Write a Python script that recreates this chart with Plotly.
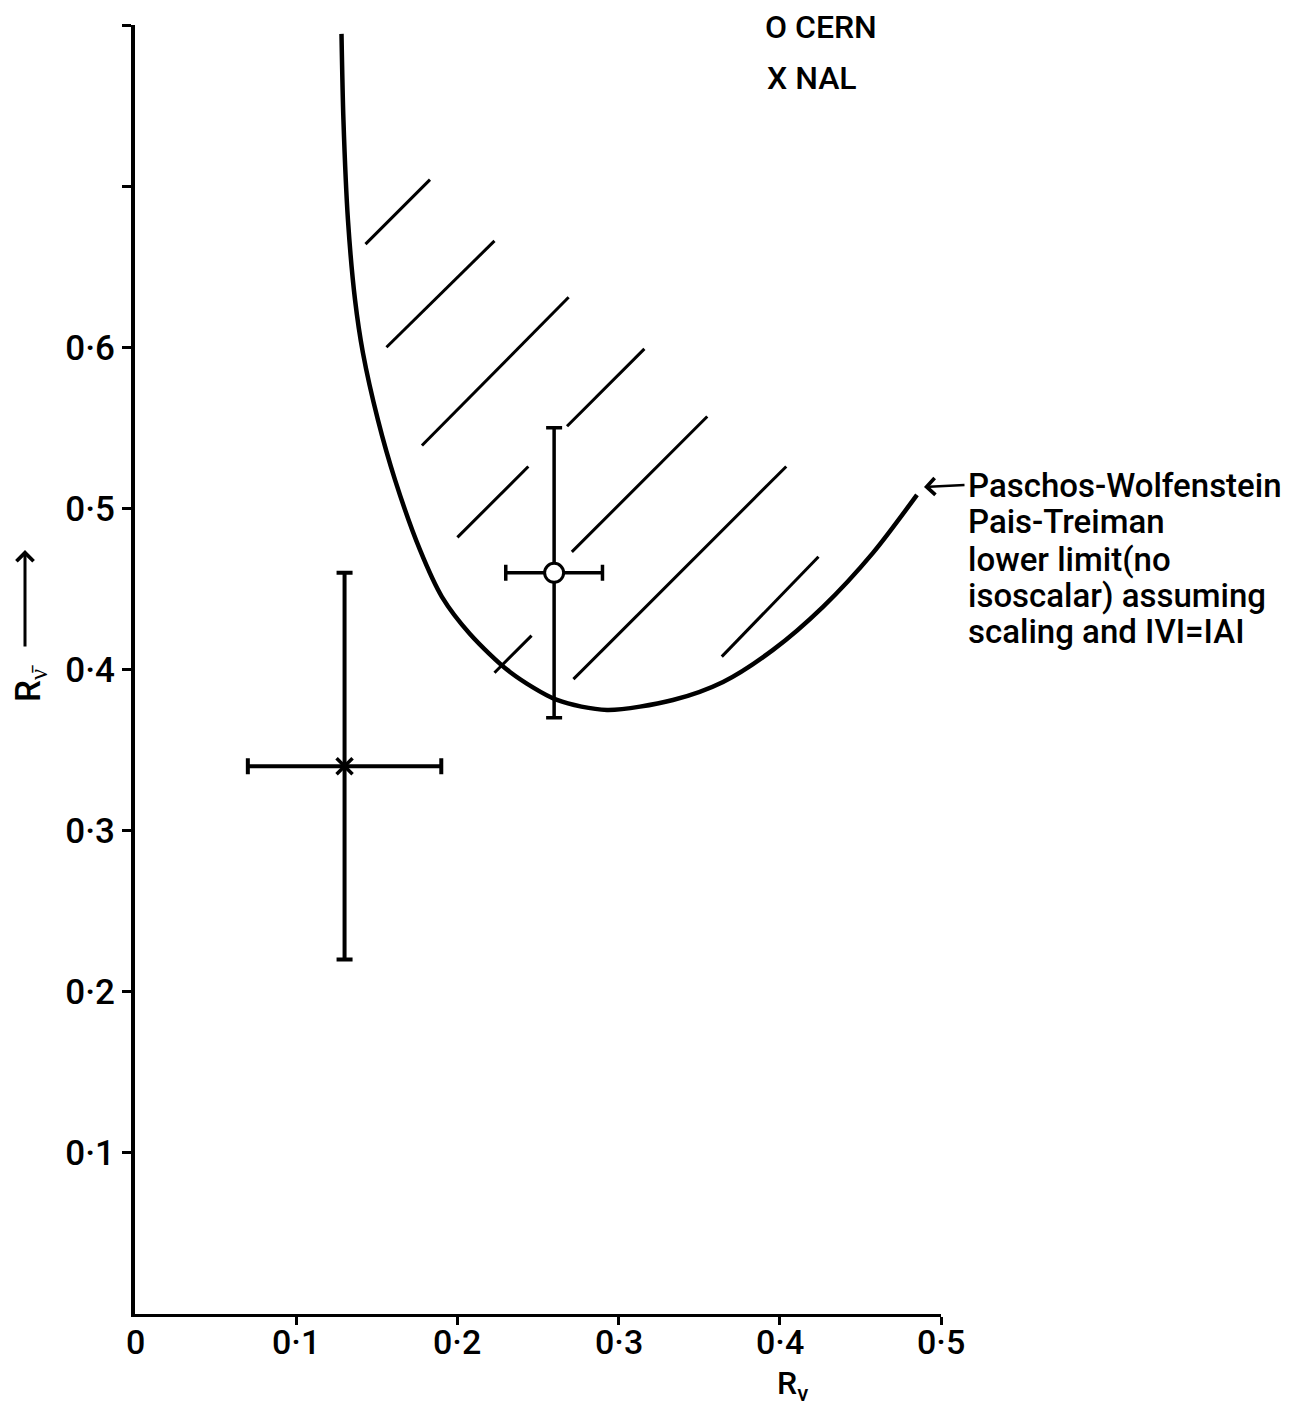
import plotly.graph_objects as go

# ---------------- data ----------------
x_tick_vals = [0.1, 0.2, 0.3, 0.4, 0.5]
x_tick_text = ["0·1", "0·2", "0·3", "0·4", "0·5"]
y_tick_vals = [0.1, 0.2, 0.3, 0.4, 0.5, 0.6, 0.7, 0.8]
y_tick_text = ["0·1", "0·2", "0·3", "0·4", "0·5", "0·6", "", ""]

# Paschos-Wolfenstein / Pais-Treiman lower limit in the (R_nu, R_nubar) plane
limit_r_nu = [0.1281, 0.1293, 0.1321, 0.1365, 0.1414, 0.1507, 0.1613, 0.1768,
              0.1904, 0.2078, 0.2326, 0.2618, 0.2928, 0.3337, 0.3648, 0.3958,
              0.4268, 0.4578, 0.4851]
limit_r_nubar = [0.7945, 0.7412, 0.6791, 0.6294, 0.5965, 0.5549, 0.5177, 0.4742,
                 0.4451, 0.4221, 0.3985, 0.3811, 0.3749, 0.3811, 0.3923, 0.4122,
                 0.4389, 0.4724, 0.5084]

# hatching strokes marking the allowed side of the limit (start / end points)
hatch_x0 = [0.143, 0.156, 0.178, 0.200, 0.268, 0.223, 0.271, 0.272, 0.364]
hatch_y0 = [0.664, 0.600, 0.539, 0.482, 0.551, 0.398, 0.473, 0.394, 0.408]
hatch_x1 = [0.183, 0.223, 0.269, 0.244, 0.316, 0.246, 0.355, 0.404, 0.424]
hatch_y1 = [0.704, 0.666, 0.631, 0.526, 0.599, 0.421, 0.557, 0.526, 0.470]

# measurements
cern_r_nu, cern_r_nubar = [0.26], [0.46]
cern_err_nu, cern_err_nubar = [0.03], [0.09]
nal_r_nu, nal_r_nubar = [0.13], [0.34]
nal_err_nu, nal_err_nubar = [0.06], [0.12]

note_lines = ["Paschos-Wolfenstein", "Pais-Treiman", "lower limit(no",
              "isoscalar) assuming", "scaling and IVI=IAI"]

FONT = "Roboto"
INK = "black"

# plot-area geometry in pixels (used to place free text in paper units)
L, T, W, H = 135, 25, 806, 1289


def px_x(px):
    return (px - L) / W


def px_y(py):
    return (T + H - py) / H


fig = go.Figure()

# hatching as one broken line
hx, hy = [], []
for a, b, c, d in zip(hatch_x0, hatch_y0, hatch_x1, hatch_y1):
    hx += [a, c, None]
    hy += [b, d, None]
fig.add_trace(go.Scatter(x=hx, y=hy, mode="lines",
                         line=dict(color=INK, width=3), hoverinfo="skip"))

# limit curve
fig.add_trace(go.Scatter(x=limit_r_nu, y=limit_r_nubar, mode="lines",
                         line=dict(color=INK, width=4.5, shape="spline", smoothing=0.8)))

# NAL point
fig.add_trace(go.Scatter(
    x=nal_r_nu, y=nal_r_nubar, mode="markers",
    marker=dict(symbol="x-thin-open", size=16, color=INK, line=dict(color=INK, width=3.5)),
    error_x=dict(type="data", array=nal_err_nu, color=INK, thickness=4, width=8),
    error_y=dict(type="data", array=nal_err_nubar, color=INK, thickness=4, width=8),
))

# CERN point
fig.add_trace(go.Scatter(
    x=cern_r_nu, y=cern_r_nubar, mode="markers",
    marker=dict(symbol="circle", size=19, color="white", line=dict(color=INK, width=3)),
    error_x=dict(type="data", array=cern_err_nu, color=INK, thickness=3.5, width=8),
    error_y=dict(type="data", array=cern_err_nubar, color=INK, thickness=3.5, width=8),
))

tick_font = dict(family=FONT, size=35, color=INK, weight=500)
xtick_font = dict(family=FONT, size=34, color=INK, weight=500)
text_font = dict(family=FONT, size=33, color=INK, weight=500)
ann = []

# x tick labels, set just under the tick marks
for v, t in zip([0] + x_tick_vals, ["0"] + x_tick_text):
    ann.append(dict(x=v, y=px_y(1342), xref="x", yref="paper", text=t,
                    showarrow=False, font=xtick_font, xanchor="center", yanchor="middle"))

# axis titles
ann.append(dict(x=px_x(775), y=px_y(1362), xref="paper", yref="paper",
                text="R<sub>ν</sub>", showarrow=False,
                font=dict(family=FONT, size=32, color=INK, weight=500),
                xanchor="left", yanchor="top"))
ann.append(dict(x=px_x(30), y=px_y(684), xref="paper", yref="paper",
                text="R<sub>ν̄</sub>", showarrow=False, textangle=-90, font=tick_font,
                xanchor="center", yanchor="middle"))
ann.append(dict(x=px_x(25), y=px_y(550), xref="paper", yref="paper", ax=0, ay=98,
                text="", showarrow=True, arrowhead=4, arrowsize=1.1,
                arrowwidth=3, arrowcolor=INK))

# legend entries
ann.append(dict(x=px_x(763), y=px_y(27), xref="paper", yref="paper", text="O CERN",
                showarrow=False, font=dict(family=FONT, size=32, color=INK, weight=500),
                xanchor="left", yanchor="middle"))
ann.append(dict(x=px_x(765), y=px_y(78), xref="paper", yref="paper", text="X NAL",
                showarrow=False, font=dict(family=FONT, size=32, color=INK, weight=500),
                xanchor="left", yanchor="middle"))

# note for the limit curve
for txt, py in zip(note_lines, [485, 521, 559, 595, 631]):
    ann.append(dict(x=px_x(966), y=px_y(py), xref="paper", yref="paper", text=txt,
                    showarrow=False, font=text_font, xanchor="left", yanchor="middle"))
ann.append(dict(x=px_x(924), y=px_y(487), xref="paper", yref="paper", ax=42, ay=-2,
                text="", showarrow=True, arrowhead=4, arrowsize=1.3,
                arrowwidth=2.5, arrowcolor=INK))

fig.update_layout(
    width=1298, height=1405,
    margin=dict(l=L, r=1298 - L - W, t=T, b=1405 - T - H, pad=0),
    paper_bgcolor="white", plot_bgcolor="white",
    showlegend=False,
    annotations=ann,
    xaxis=dict(range=[0, 0.5], showline=True, linewidth=3, linecolor=INK,
               ticks="outside", ticklen=8, tickwidth=3, tickcolor=INK,
               tickvals=x_tick_vals, showticklabels=False,
               showgrid=False, zeroline=False),
    yaxis=dict(range=[0, 0.8], showline=True, linewidth=4, linecolor=INK,
               ticks="outside", ticklen=9, tickwidth=3, tickcolor=INK,
               tickvals=y_tick_vals, ticktext=y_tick_text, tickfont=tick_font,
               showgrid=False, zeroline=False, ticklabelstandoff=0),
)

fig.write_html("out.html")
